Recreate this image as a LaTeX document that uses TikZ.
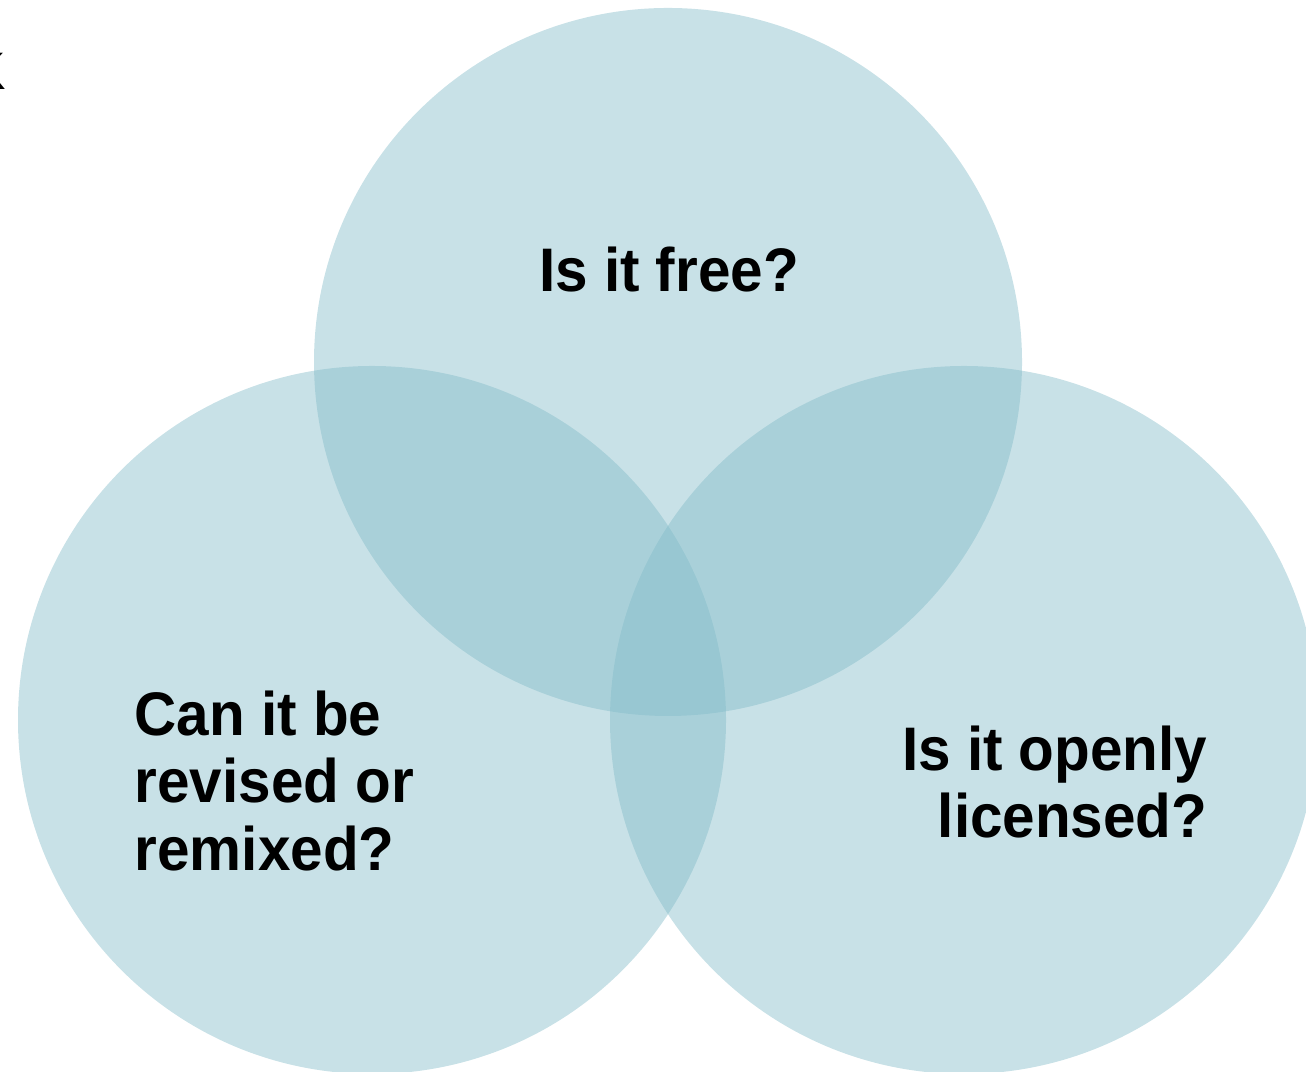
\documentclass[tikz,border=0pt]{standalone}
\usepackage{fontspec}
\setmainfont{Liberation Sans}[FakeStretch=0.95]
\definecolor{vennblue}{RGB}{130,187,200}
\tikzset{
    venn/.style={fill=vennblue, fill opacity=0.44},
    question/.style={font=\fontsize{17.5}{19.2}\selectfont\bfseries, inner sep=0pt}
}
\begin{document}
\begin{tikzpicture}
        \useasboundingbox (0,0) rectangle (13.06,10.72);
        \clip (0,0) rectangle (13.06,10.72);

        \foreach \cx/\cy in {6.68/7.10, 3.72/3.52, 9.64/3.52}{
            \fill[venn] (\cx,\cy) circle (3.54);
        }

        \node[question, anchor=base] (free) at (6.69,7.80) {Is it free?};
        \node[question, anchor=north west, align=left] (remix) at (1.34,3.82)
            {Can it be\\revised or\\remixed?};
        \node[question, anchor=north east, align=right] (license) at (12.08,3.47)
            {Is it openly\\licensed?};

        \node[font=\fontsize{15}{17}\selectfont, anchor=base east, inner sep=0pt] (mark) at (0.07,9.82) {K};
    \end{tikzpicture}
\end{document}
